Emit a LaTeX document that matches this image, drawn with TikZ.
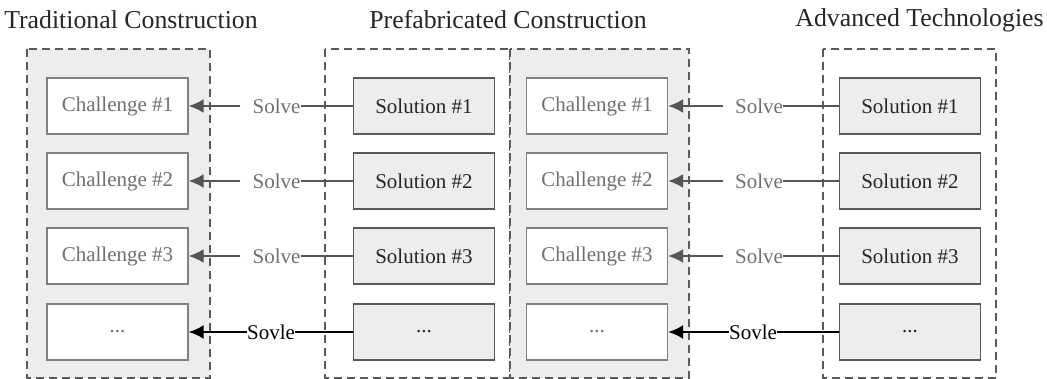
\documentclass[tikz,border=0pt]{standalone}
\usepackage{fontspec}
\setmainfont{Liberation Serif}
\usetikzlibrary{arrows.meta}

\definecolor{groupfill}{HTML}{EDEDED}
\definecolor{dashgray}{HTML}{5A5A5A}
\definecolor{chalborder}{HTML}{808080}
\definecolor{chaltext}{HTML}{707070}
\definecolor{solborder}{HTML}{595959}
\definecolor{soltext}{HTML}{262626}
\definecolor{linkgray}{HTML}{555555}

\begin{document}
\begin{tikzpicture}[x=0.5pt, y=-0.5pt,
        group/.style={draw=dashgray, line width=0.75pt, dash pattern=on 4pt off 2.5pt},
        title/.style={font=\fontsize{12.9}{15}\selectfont, text=soltext},
        chal/.style={draw=chalborder, line width=0.65pt, fill=white, text=chaltext,
            minimum width=70.5pt, minimum height=28pt, inner sep=0pt,
            font=\fontsize{10.5}{12}\selectfont},
        sol/.style={chal, draw=solborder, fill=groupfill, text=soltext},
        solve/.style={inner sep=0pt, text=chaltext, font=\fontsize{10.5}{12}\selectfont},
        sovle/.style={solve, text=black},
        link/.style={draw=linkgray, line width=1pt},
        tip/.style={-{Latex[length=7.5pt,width=7pt]}}]
    \useasboundingbox (0,0) rectangle (1047,379);

    % dashed groups
    \draw[group, fill=groupfill] (27,49) rectangle (210,378);
    \draw[group] (325,49) rectangle (510,378);
    \draw[group, fill=groupfill] (510,49) rectangle (689,378);
    \draw[group] (823,49) rectangle (996,378);

    \node[title] (trad) at (131,20) {Traditional Construction};
    \node[title] (prefab) at (508,20) {Prefabricated Construction};
    \node[title] (adv) at (919.5,20) {Advanced Technologies};

    \foreach \i/\y in {1/106,2/181,3/256} {
        \node[chal] (c1-\i) at (117.5,\y) {Challenge \#\i};
        \node[sol] (s2-\i) at (424,\y) {Solution \#\i};
        \node[chal] (c3-\i) at (597,\y) {Challenge \#\i};
        \node[sol] (s4-\i) at (910,\y) {Solution \#\i};
        \node[solve] (a-\i) at (270.5,\y) {\hspace{6pt}Solve};
        \node[solve] (b-\i) at (753,\y) {\hspace{6pt}Solve};
        \draw[link] (s2-\i) -- (a-\i.east);
        \draw[link, tip] (a-\i.west) -- (c1-\i);
        \draw[link] (s4-\i) -- (b-\i.east);
        \draw[link, tip] (b-\i.west) -- (c3-\i);
    }

    % last row
    \node[chal] (c1-4) at (117.5,332) {...};
    \node[sol] (s2-4) at (424,332) {...};
    \node[chal] (c3-4) at (597,332) {...};
    \node[sol] (s4-4) at (910,332) {...};
    \node[sovle] (a-4) at (271,332) {Sovle};
    \node[sovle] (b-4) at (753,332) {Sovle};
    \draw[link, draw=black] (s2-4) -- (a-4.east);
    \draw[link, draw=black, tip] (a-4.west) -- (c1-4);
    \draw[link, draw=black] (s4-4) -- (b-4.east);
    \draw[link, draw=black, tip] (b-4.west) -- (c3-4);
\end{tikzpicture}
\end{document}
